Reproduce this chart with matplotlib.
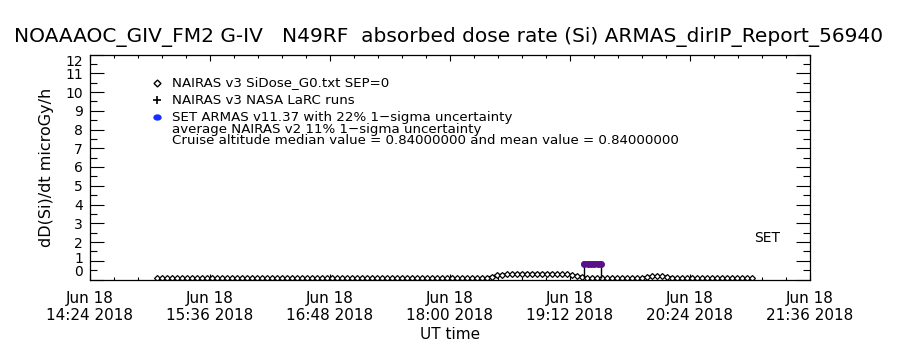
import numpy as np
import pandas as pd
import matplotlib
matplotlib.use('Agg')
import matplotlib.pyplot as plt
import matplotlib.dates as mdates
from matplotlib.ticker import AutoMinorLocator
from matplotlib.path import Path
from matplotlib.transforms import Affine2D, ScaledTranslation

# NAIRAS v3 SiDose model along the flight, one value every 3 minutes from 15:04 UT
nairas_start = '2018-06-18 15:04'
nairas_step_min = 3
nairas_dose = [
    0.07, 0.07, 0.07, 0.07, 0.07, 0.07, 0.07, 0.07, 0.07, 0.07,
    0.07, 0.07, 0.07, 0.07, 0.07, 0.07, 0.07, 0.07, 0.07, 0.07,
    0.07, 0.07, 0.07, 0.07, 0.07, 0.07, 0.07, 0.07, 0.07, 0.07,
    0.07, 0.07, 0.07, 0.07, 0.07, 0.07, 0.07, 0.07, 0.07, 0.07,
    0.07, 0.07, 0.07, 0.07, 0.07, 0.07, 0.07, 0.07, 0.07, 0.07,
    0.07, 0.07, 0.07, 0.07, 0.07, 0.07, 0.07, 0.07, 0.07, 0.07,
    0.07, 0.07, 0.07, 0.07, 0.07, 0.07, 0.08,
    0.16, 0.22, 0.26, 0.28, 0.29, 0.30, 0.30, 0.30, 0.30, 0.30,
    0.30, 0.30, 0.30, 0.29, 0.28, 0.27, 0.24, 0.20, 0.14,
    0.08, 0.07, 0.07, 0.07, 0.07, 0.07, 0.07, 0.07, 0.07, 0.07,
    0.07, 0.08,
    0.13, 0.17, 0.19, 0.18, 0.15, 0.10,
    0.07, 0.07, 0.07, 0.07, 0.07, 0.07, 0.07, 0.07, 0.07, 0.07,
    0.07, 0.07, 0.07, 0.07, 0.06, 0.06,
]

# SET ARMAS measurements at cruise
set_times = ['2018-06-18 19:20:40', '2018-06-18 19:22:40', '2018-06-18 19:24:40',
             '2018-06-18 19:26:40', '2018-06-18 19:28:40', '2018-06-18 19:30:30']
set_dose = [0.84, 0.84, 0.84, 0.84, 0.84, 0.84]

# cruise segment limits
cruise_times = ['2018-06-18 19:20:40', '2018-06-18 19:30:30']
cruise_low = [0.1, 0.1]
cruise_value = 0.84

tick_times = pd.date_range('2018-06-18 14:24', '2018-06-18 21:36', freq='72min')

nairas_times = pd.date_range(nairas_start, periods=len(nairas_dose),
                             freq=f'{nairas_step_min}min')

plt.rcParams['font.family'] = 'DejaVu Sans'

fig = plt.figure(figsize=(9, 3.5), dpi=100)
ax = fig.add_axes([0.1, 1 - 279.5 / 350, 0.8, 225 / 350])

ax.plot(nairas_times, nairas_dose, color='black', lw=1.6, marker='D', ms=3,
        mfc='white', mec='black', mew=0.9)

ct = pd.to_datetime(cruise_times)
ax.vlines(ct, cruise_low, cruise_value, color='black', lw=1)
ax.plot(pd.to_datetime(set_times), set_dose, color='#5a0f8c', lw=4,
        solid_capstyle='round', marker='o', ms=4, mec='#5a0f8c')

ax.set_xlim(tick_times[0], tick_times[-1])
ax.set_ylim(0, 12)
ax.set_xticks(tick_times)
ax.xaxis.set_major_formatter(mdates.DateFormatter('%b %d\n%H:%M %Y'))
ax.xaxis.set_minor_locator(AutoMinorLocator(5))
ax.set_yticks(range(0, 13))
ax.yaxis.set_minor_locator(AutoMinorLocator(2))

ax.tick_params(axis='x', which='major', direction='in', length=4, width=0.8,
               top=True, labelsize=11, pad=8)
ax.tick_params(axis='x', which='minor', direction='in', length=2, width=0.8, top=True)
ax.tick_params(axis='y', which='major', direction='in', length=10, width=0.8,
               right=True, labelsize=10, pad=5)
ax.tick_params(axis='y', which='minor', direction='in', length=5, width=0.8, right=True)
for s in ax.spines.values():
    s.set_linewidth(0.9)

# end labels pulled inside the axis, like the original
ylabs = ax.get_yticklabels()
ylabs[0].set_verticalalignment('bottom')
ylabs[-1].set_verticalalignment('top')
ylabs[1].set_transform(ylabs[1].get_transform()
                       + ScaledTranslation(0, 3 / 100, fig.dpi_scale_trans))

ax.set_xlabel('UT time', fontsize=11, labelpad=3)
ax.set_ylabel('dD(Si)/dt microGy/h', fontsize=11.5, labelpad=8)

fig.text(0.4985, 1 - 37 / 350,
         'NOAAAOC_GIV_FM2 G-IV   N49RF  absorbed dose rate (Si) ARMAS_dirIP_Report_56940',
         ha='center', va='center', fontsize=14.5)

# legend drawn as in the original plot
lx_m = (157 - 90) / 720
lx_t = (172 - 90) / 720


def fy(py):
    return (279.5 - py) / 225


oval = Affine2D().scale(1.4, 1.0).transform_path(Path.unit_circle())

ax.plot([lx_m], [fy(83)], transform=ax.transAxes, marker='D', ms=3.5, mfc='white',
        mec='black', mew=1, ls='none')
ax.plot([lx_m], [fy(100)], transform=ax.transAxes, marker='+', ms=6, mew=1.2,
        color='black', ls='none')
ax.plot([lx_m], [fy(117)], transform=ax.transAxes, marker=oval, ms=5, color='#1530ff',
        ls='none')
ax.text(lx_t, fy(83), 'NAIRAS v3 SiDose_G0.txt SEP=0', transform=ax.transAxes,
        va='center', fontsize=9.6)
ax.text(lx_t, fy(100), 'NAIRAS v3 NASA LaRC runs', transform=ax.transAxes,
        va='center', fontsize=9.6)
ax.text(lx_t, fy(117), 'SET ARMAS v11.37 with 22% 1\u2212sigma uncertainty',
        transform=ax.transAxes, va='center', fontsize=9.6)
ax.text(lx_t, fy(130), 'average NAIRAS v2 11% 1\u2212sigma uncertainty',
        transform=ax.transAxes, va='center', fontsize=9.6)
ax.text(lx_t, fy(141),
        'Cruise altitude median value = 0.84000000 and mean value = 0.84000000',
        transform=ax.transAxes, va='center', fontsize=9.6)
ax.text((767 - 90) / 720, fy(238), 'SET', transform=ax.transAxes, ha='center',
        va='center', fontsize=10)

fig.savefig('out.png', dpi=100)
